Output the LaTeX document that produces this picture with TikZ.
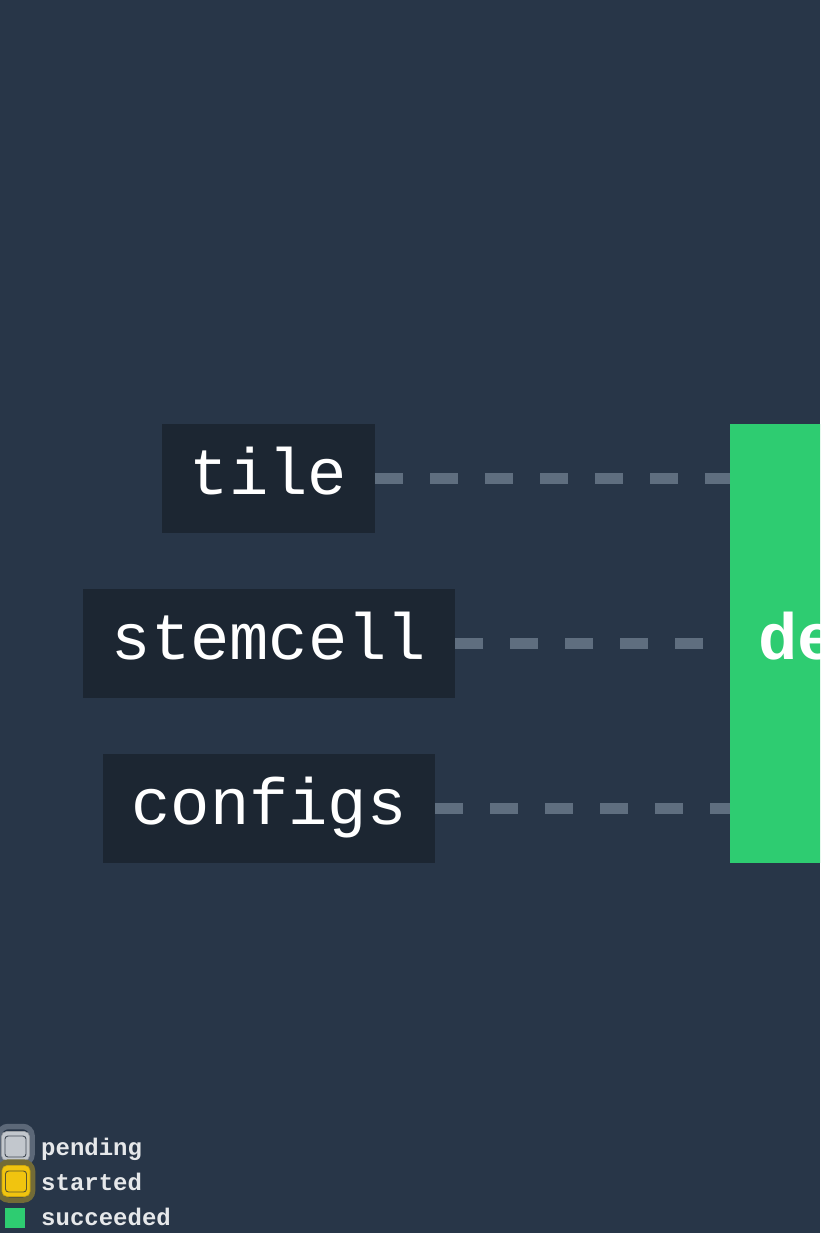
\documentclass[tikz,border=0pt]{standalone}
\usepackage{fontspec}
\setmonofont{Liberation Mono}
\definecolor{bg}{HTML}{283648}
\definecolor{boxfill}{HTML}{1C2632}
\definecolor{dashc}{HTML}{5F6E7F}
\definecolor{okgreen}{HTML}{2ECC71}
\definecolor{pendfill}{HTML}{C2C7CD}
\definecolor{pendhalo}{HTML}{5C6878}
\definecolor{startfill}{HTML}{F1C40F}
\definecolor{starthalo}{HTML}{736B36}
\definecolor{legtext}{HTML}{E6E8EA}
\begin{document}
\begin{tikzpicture}[x=1pt,y=-1pt,
  jobbox/.style={fill=boxfill, text=white, font=\ttfamily\fontsize{65.5}{70}\selectfont,
    minimum height=109pt, inner xsep=0pt, inner ysep=0pt, text height=31pt, text depth=0pt},
  dashline/.style={draw=dashc, line width=10.5pt, dash pattern=on 27.5pt off 27.5pt},
  legtxt/.style={anchor=base west, inner sep=0pt, text=legtext, font=\ttfamily\bfseries\fontsize{24}{28}\selectfont},
  ring/.style={draw=#1, line width=5.5pt, rounded corners=9pt, inner sep=0pt, minimum width=33pt, minimum height=37pt},
  markbox/.style={rounded corners=5pt, inner sep=0pt, minimum width=28pt, minimum height=29pt},
  innerline/.style={draw=#1, line width=0.9pt, rounded corners=3pt, inner sep=0pt, minimum width=21pt, minimum height=21pt}
]
\fill[bg] (0,0) rectangle (820,1233);
\clip (0,0) rectangle (820,1233);

% job nodes
\node[jobbox, minimum width=213pt] (tile) at (268.5,478.5) {tile};
\node[jobbox, minimum width=372pt] (stemcell) at (269,643.5) {stemcell};
\node[jobbox, minimum width=332pt] (configs) at (269,808.5) {configs};

% green job node (cut by the right edge)
\node[anchor=west, fill=okgreen, text=white, font=\ttfamily\bfseries\fontsize{65.5}{70}\selectfont,
  minimum height=439pt, inner xsep=28pt, inner ysep=0pt, text width=160pt, align=left,
  text height=31pt, text depth=0pt] (deploy) at (730,643.5) {de};

% connectors
\draw[dashline] (tile.east) -- (tile.east -| deploy.west);
\draw[dashline] (stemcell.east) -- (stemcell.east -| deploy.west);
\draw[dashline] (configs.east) -- (configs.east -| deploy.west);

% legend
\node[ring=pendhalo] (pendring) at (15.5,1145) {};
\node[markbox, fill=pendfill, draw=pendfill!80!black, line width=0.6pt] (pendbox) at (15.5,1146) {};
\node[innerline=pendhalo!70!black] (pendin) at (15.5,1146.5) {};
\node[ring=starthalo, minimum height=38pt] (startring) at (16,1181) {};
\node[markbox, fill=startfill, draw=startfill!85!black, line width=0.6pt, minimum height=31pt] (startbox) at (16,1181) {};
\node[innerline=starthalo!80!black] (startin) at (16,1181.5) {};
\node[fill=okgreen, inner sep=0pt, minimum width=20pt, minimum height=20pt] (succbox) at (15,1218) {};

\node[legtxt] (pendtxt) at (41,1155) {pending};
\node[legtxt] (starttxt) at (41,1190) {started};
\node[legtxt] (succtxt) at (41,1225) {succeeded};
\end{tikzpicture}
\end{document}
